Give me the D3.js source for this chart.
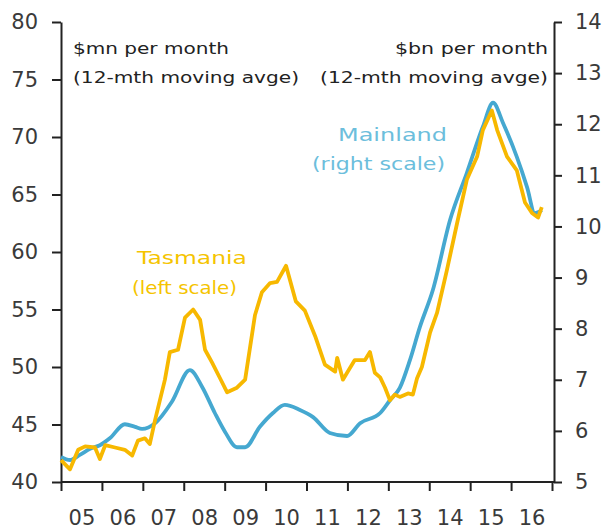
<!DOCTYPE html>
<html>
<head>
<meta charset="utf-8">
<script src="https://cdn.jsdelivr.net/npm/d3@7"></script>
<style>
  body { margin: 0; background: #fff; }
  svg { display: block; font-family: "DejaVu Sans", sans-serif; }
  .axis path, .axis line { stroke: #222; stroke-width: 2px; }
  .axis text { fill: #3a3a3a; font-size: 21px; font-family: "DejaVu Sans", sans-serif; }
</style>
</head>
<body>
<svg id="chart" width="606" height="529"></svg>
<script>
// Tasmania, $mn per month (left scale)
const tasDates = [2005.00, 2005.22, 2005.42, 2005.59, 2005.83, 2005.95, 2006.08, 2006.32, 2006.56, 2006.74,
  2006.88, 2007.05, 2007.17, 2007.30, 2007.54, 2007.66, 2007.86, 2008.03, 2008.23, 2008.40,
  2008.52, 2008.69, 2008.89, 2009.06, 2009.30, 2009.50, 2009.74, 2009.91, 2010.11, 2010.28,
  2010.50, 2010.74, 2010.96, 2011.21, 2011.45, 2011.70, 2011.75, 2011.89, 2012.01, 2012.18,
  2012.43, 2012.55, 2012.67, 2012.80, 2012.92, 2013.04, 2013.16, 2013.28, 2013.48, 2013.60,
  2013.70, 2013.82, 2014.02, 2014.19, 2014.43, 2014.68, 2014.92, 2015.17, 2015.31, 2015.53,
  2015.66, 2015.90, 2016.14, 2016.34, 2016.51, 2016.66, 2016.75];
const tasValues = [41.9, 41.1, 42.8, 43.1, 43.0, 42.0, 43.2, 43.0, 42.8, 42.3,
  43.6, 43.8, 43.3, 45.4, 48.9, 51.3, 51.5, 54.3, 55.0, 54.1,
  51.5, 50.4, 49.0, 47.8, 48.2, 48.9, 54.5, 56.5, 57.3, 57.4,
  58.8, 55.7, 54.9, 52.7, 50.2, 49.6, 50.8, 48.9, 49.6, 50.6,
  50.6, 51.3, 49.5, 49.1, 48.2, 47.1, 47.6, 47.4, 47.7, 47.6,
  49.0, 50.0, 53.0, 54.7, 58.4, 62.5, 66.3, 68.3, 70.6, 72.3,
  70.6, 68.3, 67.1, 64.3, 63.4, 63.0, 63.9];

// Mainland, $bn per month (right scale)
const mainDates = [2005.00, 2005.22, 2005.46, 2005.71, 2005.95, 2006.20, 2006.56, 2006.81, 2006.98, 2007.30,
  2007.71, 2008.15, 2008.45, 2008.76, 2009.01, 2009.30, 2009.50, 2009.86, 2010.18, 2010.47,
  2010.84, 2011.16, 2011.57, 2011.99, 2012.31, 2012.80, 2013.04, 2013.28, 2013.53, 2013.77,
  2014.09, 2014.51, 2014.92, 2015.31, 2015.56, 2015.80, 2016.14, 2016.39, 2016.58, 2016.75];
const mainValues = [5.49, 5.43, 5.53, 5.65, 5.72, 5.86, 6.13, 6.08, 6.04, 6.15,
  6.57, 7.19, 6.86, 6.35, 5.98, 5.68, 5.68, 6.08, 6.35, 6.51,
  6.41, 6.27, 5.96, 5.90, 6.15, 6.35, 6.60, 6.84, 7.39, 8.03,
  8.76, 10.13, 11.05, 11.95, 12.42, 12.03, 11.36, 10.77, 10.26, 10.32];

const leftTicks = [40, 45, 50, 55, 60, 65, 70, 75, 80];
const rightTicks = [5, 6, 7, 8, 9, 10, 11, 12, 13, 14];
const yearTicks = d3.range(2005, 2018);
const yearLabels = ["05", "06", "07", "08", "09", "10", "11", "12", "13", "14", "15", "16"];

const margin = {top: 22, left: 61, right: 52, bottom: 47};
const width = 606, height = 529;

const svg = d3.select("#chart");

/* SCALES */
const x = d3.scaleLinear().domain([2005, 2017]).range([margin.left, width - margin.right - 2]);
const yL = d3.scaleLinear().domain([40, 80]).range([height - margin.bottom, margin.top]);
const yR = d3.scaleLinear().domain([5, 14]).range([height - margin.bottom, margin.top]);

/* AXES */
svg.append("g")
  .attr("class", "axis")
  .attr("transform", `translate(${margin.left},0)`)
  .call(d3.axisLeft(yL).tickValues(leftTicks).tickSize(9).tickSizeOuter(0).tickPadding(14));

svg.append("g")
  .attr("class", "axis")
  .attr("transform", `translate(${width - margin.right},0)`)
  .call(d3.axisRight(yR).tickValues(rightTicks).tickSize(8).tickSizeOuter(0).tickPadding(13));

// bottom axis: ticks at year boundaries, labels mid-year
const xAxisG = svg.append("g")
  .attr("class", "axis")
  .attr("transform", `translate(0,${height - margin.bottom})`)
  .call(d3.axisBottom(x).tickValues(yearTicks).tickFormat("").tickSize(9).tickSizeOuter(0));
xAxisG.select(".domain").attr("d", `M${margin.left},0H${width - margin.right}`);

svg.append("g")
  .attr("class", "axis")
  .attr("transform", `translate(0,${height - margin.bottom})`)
  .call(d3.axisBottom(x).tickValues(yearLabels.map((d, i) => 2005.5 + i))
    .tickFormat((d, i) => yearLabels[i]).tickSize(0).tickPadding(28))
  .call(g => g.select(".domain").remove());

/* LINES */
const tas = tasDates.map((d, i) => ({date: d, value: tasValues[i]}));
const main = mainDates.map((d, i) => ({date: d, value: mainValues[i]}));

const tasLine = d3.line().x(d => x(d.date)).y(d => yL(d.value)).curve(d3.curveLinear);
const mainLine = d3.line().x(d => x(d.date)).y(d => yR(d.value)).curve(d3.curveMonotoneX);

svg.append("path")
  .datum(main)
  .attr("fill", "none")
  .attr("stroke", "#45a8d0")
  .attr("stroke-width", 3.8)
  .attr("stroke-linejoin", "round")
  .attr("d", mainLine);

svg.append("path")
  .datum(tas)
  .attr("fill", "none")
  .attr("stroke", "#f7b800")
  .attr("stroke-width", 3.8)
  .attr("stroke-linejoin", "round")
  .attr("d", tasLine);

/* TEXT */
// the source face is wide, so the notes are stretched to the widths measured on the picture
const stretch = (sel, w) => sel.attr("textLength", w).attr("lengthAdjust", "spacingAndGlyphs");

const note = svg.append("g").attr("fill", "#222").attr("font-size", 16);
note.append("text").attr("x", 73).attr("y", 54).text("$mn per month").call(stretch, 156);
note.append("text").attr("x", 73).attr("y", 83).text("(12-mth moving avge)").call(stretch, 226);
note.append("text").attr("x", 395).attr("y", 54).text("$bn per month").call(stretch, 153);
note.append("text").attr("x", 320).attr("y", 83).text("(12-mth moving avge)").call(stretch, 228);

svg.append("g").attr("fill", "#f5c400").attr("font-size", 17)
  .call(g => {
    g.append("text").attr("x", 137).attr("y", 264).text("Tasmania").call(stretch, 110);
    g.append("text").attr("x", 132).attr("y", 294).text("(left scale)").call(stretch, 105);
  });

svg.append("g").attr("fill", "#6cbedc").attr("font-size", 17)
  .call(g => {
    g.append("text").attr("x", 338).attr("y", 141).text("Mainland").call(stretch, 109);
    g.append("text").attr("x", 312).attr("y", 170).text("(right scale)").call(stretch, 133);
  });
</script>
</body>
</html>
